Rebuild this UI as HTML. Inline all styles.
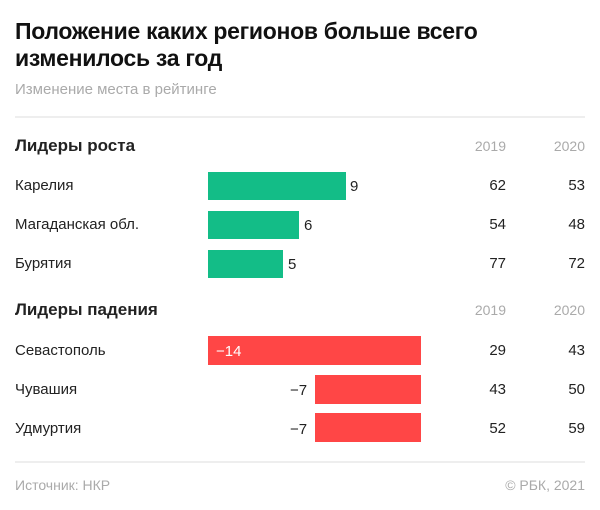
<!DOCTYPE html>
<html><head><meta charset="utf-8"><style>
body{margin:0;width:600px;height:510px;background:#fff;font-family:"Liberation Sans",sans-serif;position:relative;overflow:hidden;color:#222}
div{position:absolute;white-space:nowrap}
.t{left:15px;font-size:23px;font-weight:bold;color:#111;letter-spacing:-0.3px}
.h{left:15px;font-size:17px;font-weight:bold;color:#222}
.l{left:15px;font-size:15px}
.n{font-size:15px;text-align:right;width:40px}
.y{font-size:14px;color:#aaa;text-align:right;width:40px}
.g{background:#13bd87;height:28px;left:208px}
.r{background:#ff4646;height:29px}
.line{left:15px;width:570px;height:2px;background:#eee}
.v{font-size:15px}
</style></head><body>
<div class="t" style="top:18px">Положение каких регионов больше всего</div>
<div class="t" style="top:45px">изменилось за год</div>
<div style="left:15px;top:81px;font-size:15px;color:#aaa">Изменение места в рейтинге</div>
<div class="line" style="top:116px"></div>
<div class="h" style="top:136px">Лидеры роста</div>
<div class="y" style="left:466px;top:138px">2019</div>
<div class="y" style="left:545px;top:138px">2020</div>
<div class="l" style="top:177px">Карелия</div>
<div class="g" style="top:172px;width:138px"></div><div class="v" style="left:350px;top:178px">9</div>
<div class="n" style="left:466px;top:177px">62</div><div class="n" style="left:545px;top:177px">53</div>
<div class="l" style="top:216px">Магаданская обл.</div>
<div class="g" style="top:211px;width:91px"></div><div class="v" style="left:304px;top:217px">6</div>
<div class="n" style="left:466px;top:216px">54</div><div class="n" style="left:545px;top:216px">48</div>
<div class="l" style="top:255px">Бурятия</div>
<div class="g" style="top:250px;width:75px"></div><div class="v" style="left:288px;top:256px">5</div>
<div class="n" style="left:466px;top:255px">77</div><div class="n" style="left:545px;top:255px">72</div>
<div class="h" style="top:300px">Лидеры падения</div>
<div class="y" style="left:466px;top:302px">2019</div>
<div class="y" style="left:545px;top:302px">2020</div>
<div class="l" style="top:342px">Севастополь</div>
<div class="r" style="left:208px;top:336px;width:213px"></div><div class="v" style="left:216px;top:343px;color:#fff">−14</div>
<div class="n" style="left:466px;top:342px">29</div><div class="n" style="left:545px;top:342px">43</div>
<div class="l" style="top:381px">Чувашия</div>
<div class="r" style="left:315px;top:375px;width:106px"></div><div class="v" style="left:290px;top:382px">−7</div>
<div class="n" style="left:466px;top:381px">43</div><div class="n" style="left:545px;top:381px">50</div>
<div class="l" style="top:420px">Удмуртия</div>
<div class="r" style="left:315px;top:413px;width:106px"></div><div class="v" style="left:290px;top:421px">−7</div>
<div class="n" style="left:466px;top:420px">52</div><div class="n" style="left:545px;top:420px">59</div>
<div class="line" style="top:461px"></div>
<div style="left:15px;top:477px;font-size:14px;color:#aaa">Источник: НКР</div>
<div style="right:15px;top:477px;font-size:14px;color:#aaa">© РБК, 2021</div>
</body></html>
